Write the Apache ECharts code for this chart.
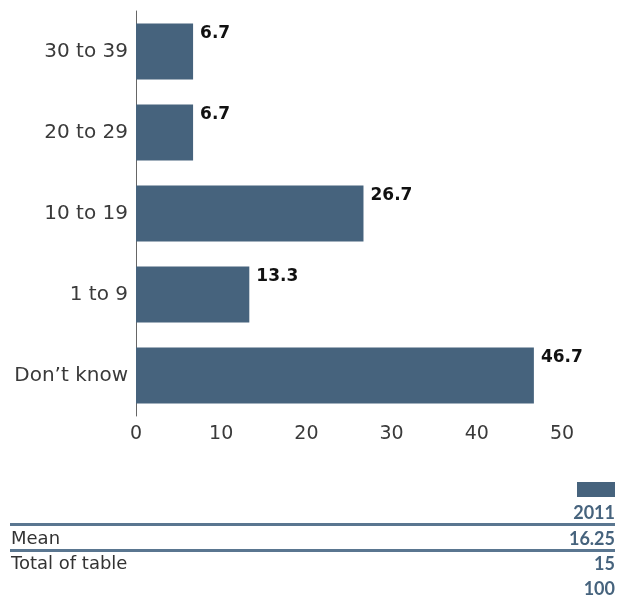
<!DOCTYPE html>
<html>
<head>
<meta charset="utf-8">
<script src="https://cdn.jsdelivr.net/npm/echarts@6/dist/echarts.min.js"></script>
<style>
  html, body { margin: 0; padding: 0; background: #fff; }
  #main { width: 619px; height: 595px; }
</style>
</head>
<body>
<div id="main"></div>
<script>
// data
const categories = ["Don\u2019t know", "1 to 9", "10 to 19", "20 to 29", "30 to 39"];
const values2011 = [46.7, 13.3, 26.7, 6.7, 6.7];
const tableRows = [
  ["Mean", "16.25"],
  ["Total of table", "15"],
  ["", "100"]
];
const yearLabel = "2011";

const barColor = "#46637d";
const font = "DejaVu Sans";
const numFont = "Lato";

const chart = echarts.init(document.getElementById("main"));

// table under the chart
const graphics = [
  { type: "rect", shape: { x: 577, y: 482, width: 38, height: 15 }, style: { fill: barColor } },
  { type: "text", style: { x: 615, y: 513, text: yearLabel, align: "right", verticalAlign: "middle",
      font: "bold 18px " + numFont, fill: barColor } },
  { type: "rect", shape: { x: 10, y: 523, width: 605, height: 3 }, style: { fill: "#5a7690" } },
  { type: "rect", shape: { x: 10, y: 549, width: 605, height: 3 }, style: { fill: "#5a7690" } }
];
tableRows.forEach(function (row, i) {
  const y = 539 + i * 25;
  if (row[0]) {
    graphics.push({ type: "text", style: { x: 11, y: y, text: row[0], verticalAlign: "middle",
      font: "18px 'DejaVu Sans'", fill: "#333" } });
  }
  graphics.push({ type: "text", style: { x: 615, y: y, text: row[1], align: "right", verticalAlign: "middle",
    font: "bold 18px " + numFont, fill: barColor } });
});

chart.setOption({
  animation: false,
  grid: { left: 136, right: 57, top: 11, height: 405, containLabel: false },
  xAxis: {
    type: "value",
    min: 0,
    max: 50,
    interval: 10,
    axisLine: { show: false },
    axisTick: { show: false },
    splitLine: { show: false },
    axisLabel: { fontFamily: font, fontSize: 19, color: "#3a3a3a", margin: 9 }
  },
  yAxis: {
    type: "category",
    data: categories,
    axisLine: { show: true, lineStyle: { color: "#666", width: 1 } },
    axisTick: { show: false },
    axisLabel: { fontFamily: font, fontSize: 20, color: "#3a3a3a", margin: 8 }
  },
  series: [{
    type: "bar",
    data: values2011,
    barWidth: 56,
    itemStyle: { color: barColor },
    label: {
      show: true,
      position: "right",
      offset: [0, -18],
      distance: 7,
      fontFamily: font,
      fontSize: 17,
      fontWeight: "bold",
      color: "#111"
    }
  }],
  graphic: graphics
});
</script>
</body>
</html>
